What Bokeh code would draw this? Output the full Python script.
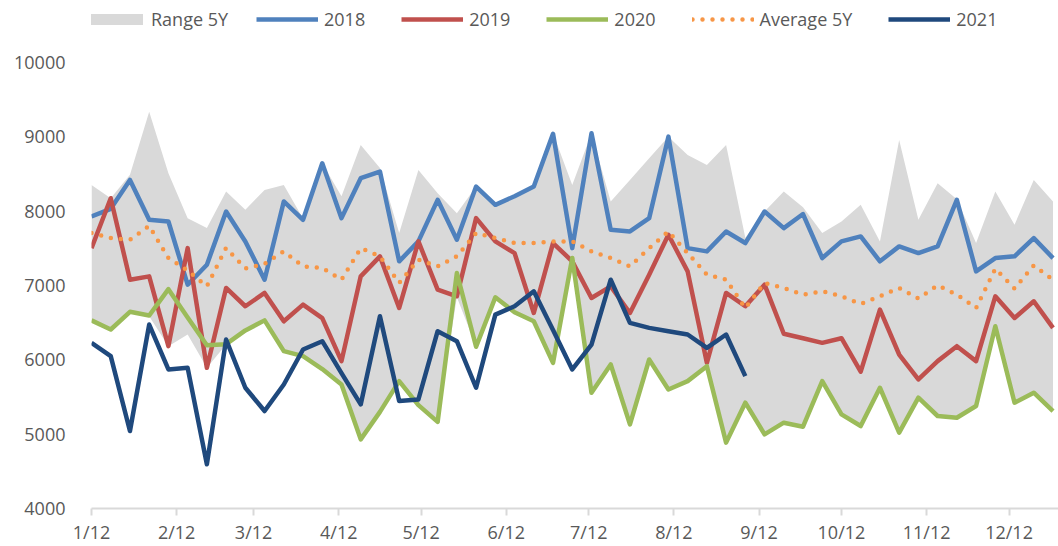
import pandas as pd
from bokeh.plotting import figure
from bokeh.models import Range1d, FixedTicker, Legend, LegendItem
from bokeh.embed import file_html
from bokeh.resources import INLINE

# ---------------- data ----------------
start = pd.Timestamp("2021-01-12")
week_dates = pd.date_range(start, periods=51, freq="7D")
month_dates = pd.date_range(start, periods=12, freq=pd.DateOffset(months=1))
tick_labels = ["1/12", "2/12", "3/12", "4/12", "5/12", "6/12",
               "7/12", "8/12", "9/12", "10/12", "11/12", "12/12"]
y_ticks = [4000, 5000, 6000, 7000, 8000, 9000, 10000]

range_high = [8352, 8174, 8487, 9336, 8509, 7905, 7771, 8263, 8017, 8285,
              8352, 7900, 8643, 8200, 8889, 8580, 7704, 8554, 8241, 7972,
              8330, 8084, 8200, 8352, 9046, 8352, 9046, 8129, 8419, 8710,
              9001, 8755, 8621, 8889, 7640, 7994, 8263, 8050, 7704, 7860,
              8084, 7592, 8956, 7883, 8374, 8160, 7570, 8263, 7816, 8419,
              8129]
range_low = [6530, 6400, 6640, 6586, 6183, 6339, 5892, 6205, 6407, 6518,
             6116, 6049, 5860, 5668, 4930, 5311, 5713, 5400, 5176, 6840,
             6183, 6831, 6608, 6518, 5959, 7300, 5557, 5937, 5132, 6004,
             5601, 5713, 5914, 4886, 5423, 4997, 5154, 5100, 5713, 5266,
             5109, 5624, 5020, 5490, 5244, 5221, 5378, 6451, 5423, 5557,
             5311]
y2018 = [7927, 8030, 8419, 7883, 7860, 7010, 7279, 7994, 7592, 7077,
         8129, 7883, 8643, 7905, 8442, 8531, 7324, 7592, 8151, 7614,
         8330, 8084, 8200, 8330, 9040, 7502, 9046, 7748, 7726, 7905,
         9001, 7502, 7458, 7726, 7570, 7994, 7771, 7960, 7368, 7592,
         7659, 7324, 7525, 7435, 7525, 8151, 7189, 7368, 7391, 7637,
         7368]
y2019 = [7502, 8173, 7077, 7122, 6183, 7502, 5892, 6966, 6720, 6899,
         6518, 6742, 6560, 5982, 7122, 7391, 6697, 7592, 6943, 6854,
         7905, 7592, 7435, 6630, 7570, 7324, 6831, 6988, 6630, 7145,
         7681, 7189, 5959, 6899, 6720, 7010, 6350, 6290, 6228, 6290,
         5840, 6675, 6071, 5736, 5982, 6183, 5982, 6854, 6563, 6787,
         6429]
y2020 = [6530, 6407, 6645, 6595, 6950, 6570, 6195, 6210, 6395, 6530,
         6116, 6049, 5875, 5668, 4930, 5300, 5713, 5390, 5165, 7167,
         6175, 6840, 6640, 6518, 5959, 7370, 5557, 5937, 5132, 6004,
         5601, 5713, 5914, 4886, 5423, 4997, 5154, 5100, 5713, 5266,
         5109, 5624, 5020, 5490, 5244, 5221, 5378, 6451, 5423, 5557,
         5311]
avg5y = [7704, 7637, 7614, 7800, 7368, 7200, 6988, 7505, 7230, 7290,
         7458, 7256, 7234, 7077, 7502, 7391, 7033, 7346, 7256, 7391,
         7704, 7637, 7570, 7570, 7590, 7592, 7458, 7368, 7256, 7502,
         7726, 7435, 7145, 7077, 6697, 7033, 6966, 6876, 6921, 6854,
         6751, 6854, 6966, 6823, 7001, 6876, 6697, 7225, 6957, 7270,
         7077]
y2021 = [6228, 6049, 5042, 6474, 5870, 5892, 4595, 6272, 5624, 5311,
         5668, 6138, 6250, 5820, 5400, 6586, 5445, 5467, 6384, 6250,
         5624, 6608, 6720, 6921, 6400, 5870, 6205, 7077, 6496, 6429,
         6384, 6340, 6160, 6340, 5780]

x_days = [(d - start).days for d in week_dates]
tick_days = [(d - start).days for d in month_dates]

# ---------------- figure ----------------
FONT = "Open Sans"
TXT = "#595959"
Y_TOP = 10832  # headroom above 10000 for the legend

p = figure(width=1058, height=546, output_backend="svg", toolbar_location=None,
           x_range=Range1d(0, 352), y_range=Range1d(4000, Y_TOP),
           min_border_left=91, min_border_right=0, min_border_top=0,
           min_border_bottom=0, outline_line_color=None)

p.varea(x=x_days, y1=range_low, y2=range_high, fill_color="#D9D9D9")
# legend key for the range band (full-width grey swatch); a single-point
# line draws nothing in the plot area itself
r_range_key = p.line(x_days[:1], range_high[:1], line_color="#D9D9D9",
                     line_width=11)
common = dict(line_width=4.5, line_join="round")
r18 = p.line(x_days, y2018, line_color="#4F81BD", **common)
r19 = p.line(x_days, y2019, line_color="#C0504D", **common)
r20 = p.line(x_days, y2020, line_color="#9BBB59", **common)
ravg = p.line(x_days, avg5y, line_color="#F79646", line_width=4.5,
              line_dash="0 10", line_cap="round")
r21 = p.line(x_days[:len(y2021)], y2021, line_color="#1F497D", **common)


def style(lg):
    lg.orientation = "horizontal"
    lg.border_line_color = None
    lg.background_fill_alpha = 0
    lg.padding = 0
    lg.margin = 0
    lg.spacing = 36
    lg.glyph_width = 62
    lg.glyph_height = 12
    lg.label_standoff = 6
    lg.label_text_font = FONT
    lg.label_text_font_size = "18px"
    lg.label_text_color = TXT
    return lg


legend_a = style(Legend(items=[LegendItem(label="Range 5Y", renderers=[r_range_key])],
                        location=(-10, 477)))
legend_a.label_standoff = 8
legend_b = style(Legend(items=[
    LegendItem(label="2018", renderers=[r18]),
    LegendItem(label="2019", renderers=[r19]),
    LegendItem(label="2020", renderers=[r20]),
    LegendItem(label="Average 5Y", renderers=[ravg]),
    LegendItem(label="2021", renderers=[r21]),
], location=(165, 477)))
p.add_layout(legend_a)
p.add_layout(legend_b)

p.xgrid.visible = False
p.ygrid.visible = False

p.xaxis.ticker = FixedTicker(ticks=tick_days)
p.xaxis.major_label_overrides = dict(zip(tick_days, tick_labels))
p.xaxis.axis_line_color = "#D9D9D9"
p.xaxis.axis_line_width = 2
p.xaxis.major_tick_line_color = "#D9D9D9"
p.xaxis.major_tick_line_width = 2
p.xaxis.major_tick_out = 7
p.xaxis.major_tick_in = 0
p.xaxis.minor_tick_line_color = None
p.xaxis.major_label_standoff = 4
p.xaxis.major_label_text_font = FONT
p.xaxis.major_label_text_font_size = "18px"
p.xaxis.major_label_text_color = TXT

p.yaxis.ticker = FixedTicker(ticks=y_ticks)
p.yaxis.axis_line_color = None
p.yaxis.major_tick_line_color = None
p.yaxis.minor_tick_line_color = None
p.yaxis.major_label_standoff = 20
p.yaxis.major_label_text_font = FONT
p.yaxis.major_label_text_font_size = "18px"
p.yaxis.major_label_text_color = TXT

open("out.html", "w").write(file_html(p, INLINE))
